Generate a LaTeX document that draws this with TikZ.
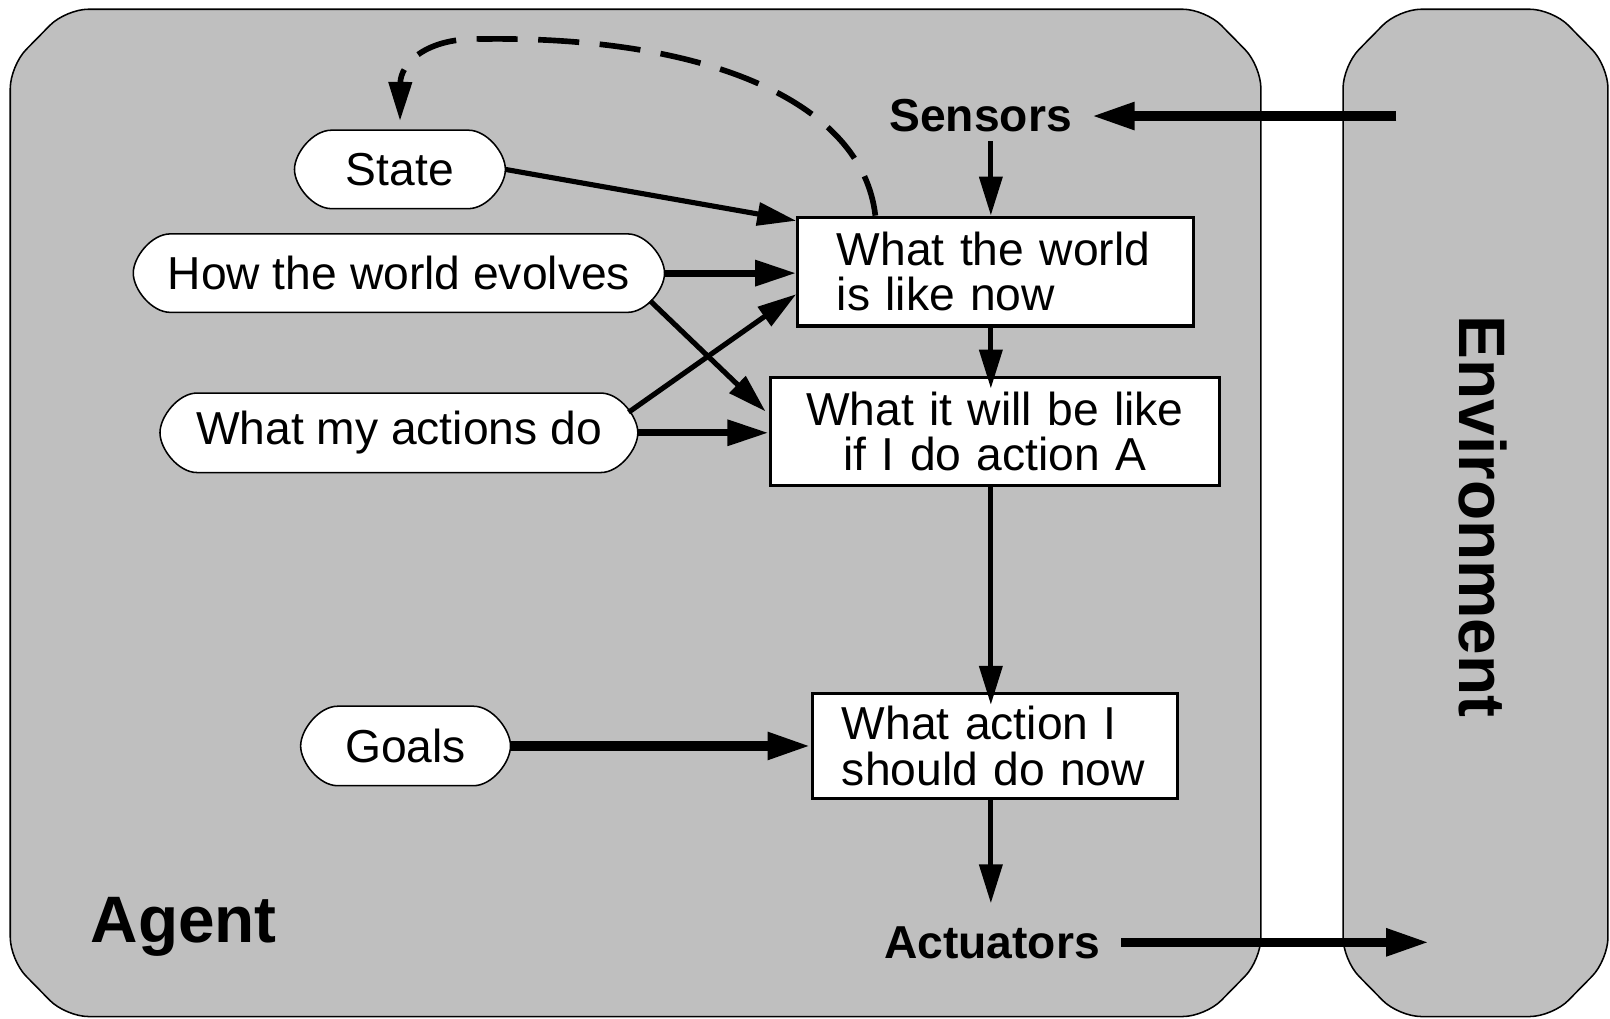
\documentclass[tikz,border=0pt]{standalone}
\usepackage{fontspec}
\setmainfont{Liberation Sans}
\usetikzlibrary{arrows.meta,calc}
\pgfdeclarelayer{bglayer}
\pgfdeclarelayer{pilllayer}
\pgfsetlayers{bglayer,pilllayer,main}
\definecolor{panelgray}{RGB}{191,191,191}
\newcommand\pilloutline[1]{%
  \begin{pgfonlayer}{pilllayer}
    \draw[pillline] ([xshift=36pt]#1.north west) -- ([xshift=-36pt]#1.north east)
      .. controls ([xshift=-18pt]#1.north east) and ([yshift=16pt]#1.east) .. (#1.east)
      .. controls ([yshift=-16pt]#1.east) and ([xshift=-18pt]#1.south east) .. ([xshift=-36pt]#1.south east)
      -- ([xshift=36pt]#1.south west)
      .. controls ([xshift=18pt]#1.south west) and ([yshift=-16pt]#1.west) .. (#1.west)
      .. controls ([yshift=16pt]#1.west) and ([xshift=18pt]#1.north west) .. ([xshift=36pt]#1.north west)
      -- cycle;
  \end{pgfonlayer}}
\begin{document}
\begin{tikzpicture}[x=1pt,y=-1pt,
  panel/.style={draw=black,line width=1.5pt,fill=panelgray,rounded corners=22pt},
  pillline/.style={draw=black,line width=1.5pt,fill=white},
  pill/.style={draw=none,inner sep=0pt,minimum height=76pt,
    font={\fontsize{45}{44}\selectfont}},
  boxnode/.style={draw=black,line width=3pt,fill=white,inner ysep=0pt,
    minimum height=106pt,font={\fontsize{45}{44}\selectfont}},
  lbl/.style={inner sep=0pt,font={\fontsize{45}{44}\selectfont\bfseries}},
  biglbl/.style={inner sep=0pt,font={\fontsize{64}{70}\selectfont\bfseries}},
  arr/.style={line width=5pt,-{Triangle[length=38pt,width=22pt]}},
  midarr/.style={line width=7pt,-{Triangle[length=40pt,width=24pt]}},
  thickarr/.style={line width=9pt,-{Triangle[length=42pt,width=25pt]}},
  dasharr/.style={line width=5.5pt,dash pattern=on 40pt off 20pt,
    -{Triangle[length=38pt,width=22pt]}}
]
\useasboundingbox (0,0) rectangle (1568,992);

% panels
\begin{pgfonlayer}{bglayer}
  \draw[panel] (10,64) -- (64,9) -- (1174,9) -- (1228,64) -- (1228,935)
    -- (1174,990) -- (64,990) -- (10,935) -- cycle;
  \draw[panel] (1308,64) -- (1362,9) -- (1512,9) -- (1566,64) -- (1566,935)
    -- (1512,990) -- (1362,990) -- (1308,935) -- cycle;
\end{pgfonlayer}

% labels
\node[biglbl,anchor=base west] (agent) at (88,918) {Agent};
\node[biglbl,rotate=-90] (envlabel) at (1444,503) {Environment};
\node[lbl,anchor=base] (sensors) at (955,128) {Sensors};
\node[lbl,anchor=base] (actuators) at (966,933) {Actuators};

% pill nodes
\node[pill,minimum width=205pt] (state) at (389.5,165) {State};
\node[pill,minimum width=517pt] (how) at (388.5,266) {How the world evolves};
\node[pill,minimum width=465pt,minimum height=77pt] (actions) at (388.5,421.5) {What my actions do};
\node[pill,minimum width=204pt,minimum height=77pt] (goals) at (395,726.5) {Goals};
\pilloutline{state}
\pilloutline{how}
\pilloutline{actions}
\pilloutline{goals}

% boxes
\node[boxnode,inner xsep=38pt,text width=309pt,align=left] (box1) at (969.5,264.5)
  {What the world\\is like now};
\node[boxnode,inner xsep=20pt,text width=398pt,align=center,minimum height=105pt] (box2) at (969,420.5)
  {What it will be like\\if I do action A};
\node[boxnode,inner xsep=29pt,text width=298pt,align=left,minimum height=103pt] (box3) at (969,726.5)
  {What action I\\should do now};

% free ends
\coordinate (vx) at (965,0);
\coordinate (envin) at (1360,113);
\coordinate (envout) at (1392,917);

% connectors
\draw[thickarr,shorten >=19pt] (envin) -- (envin -| sensors.east);
\draw[arr,shorten <=9pt] (sensors.south -| vx) -- (box1.north -| vx);
\draw[arr,shorten >=-12pt] (box1.south -| vx) -- (box2.north -| vx);
\draw[arr,shorten >=-13pt] (box2.south -| vx) -- (box3.north -| vx);
\draw[arr,shorten >=22pt] (box3.south -| vx) -- (actuators.north -| vx);
\draw[thickarr,shorten <=21pt] (actuators.east) -- (actuators.east -| envout);

\draw[arr] (state.east) -- ([yshift=-5pt]box1.north west);
\draw[midarr] (how.east) -- (how.east -| box1.west);
\draw[arr,shorten >=4pt] ([xshift=-14pt,yshift=-27pt]how.east) -- ([yshift=17pt]box2.west);
\draw[arr] ([xshift=-9pt,yshift=20pt]actions.east) -- ([yshift=-22pt]box1.west);
\draw[midarr] (actions.east) -- (actions.east -| box2.west);
\draw[thickarr] (goals.east) -- (goals.east -| box3.west);

\draw[dasharr,shorten >=9pt] ([xshift=77pt]box1.north west)
  .. controls (840,100) and (690,35) .. (470,38)
  .. controls (415,36) and (390,62) .. (state.north);
\end{tikzpicture}
\end{document}
